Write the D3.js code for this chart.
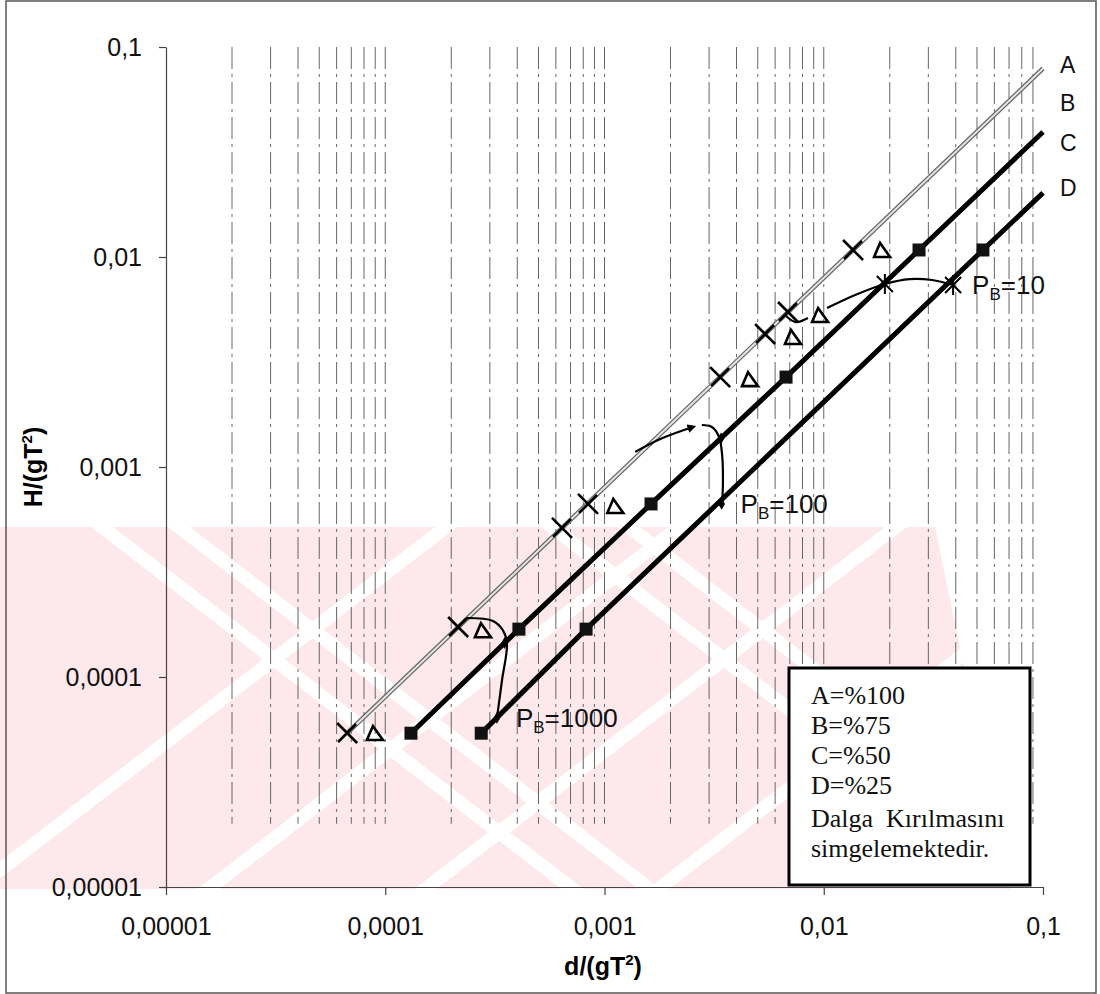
<!DOCTYPE html>
<html>
<head>
<meta charset="utf-8">
<script src="https://cdn.jsdelivr.net/npm/d3@7"></script>
<style>
  body { margin: 0; background: #fff; }
  svg { display: block; }
</style>
</head>
<body>
<div id="content"></div>
<script>
// tick values and labels (Turkish decimal comma)
const xTicks = [1e-5, 1e-4, 1e-3, 1e-2, 1e-1];
const xTickLabels = ["0,00001", "0,0001", "0,001", "0,01", "0,1"];
const yTicks = [1e-5, 1e-4, 1e-3, 1e-2, 1e-1];
const yTickLabels = ["0,00001", "0,0001", "0,001", "0,01", "0,1"];

// [d/(gT^2), H/(gT^2)]
const lineA = [[6.7e-5, 5.4e-5], [0.1, 0.079]];
const lineC = [[1.31e-4, 5.4e-5], [4.07e-4, 1.69e-4], [1.63e-3, 6.67e-4], [6.73e-3, 2.68e-3], [0.0272, 0.0108], [0.1, 0.0394]];
const lineD = [[2.74e-4, 5.4e-5], [8.24e-4, 1.69e-4], [0.0532, 0.0108], [0.1, 0.0202]];
const squaresC = [[1.31e-4, 5.4e-5], [4.07e-4, 1.69e-4], [1.63e-3, 6.67e-4], [6.73e-3, 2.68e-3], [0.0272, 0.0108]];
const squaresD = [[2.74e-4, 5.4e-5], [8.24e-4, 1.69e-4], [0.0532, 0.0108]];

// wave breaking marks
const breakA = [[6.7e-5, 5.41e-5], [2.15e-4, 1.73e-4], [6.40e-4, 5.13e-4], [8.41e-4, 6.67e-4], [3.37e-3, 2.68e-3], [5.40e-3, 4.30e-3], [6.87e-3, 5.47e-3], [0.0136, 0.0108]];
const triangles = [[8.97e-5, 5.41e-5], [2.79e-4, 1.67e-4], [1.12e-3, 6.52e-4], [4.61e-3, 2.62e-3], [7.24e-3, 4.16e-3], [9.62e-3, 5.29e-3], [0.01845, 0.0108]];
const breakCD = [[3.5e-4, 1.45e-4], [3.23e-4, 6.38e-5], [3.4e-3, 1.37e-3], [3.42e-3, 6.67e-4]];
const asterisks = [[0.019, 7.44e-3], [0.0389, 7.36e-3]];

// P_B curves
const pb1000 = [[2.36e-4, 1.91e-4], [3.10e-4, 1.85e-4], [3.44e-4, 1.67e-4], [3.59e-4, 1.45e-4], [3.41e-4, 9.68e-5], [3.27e-4, 6.97e-5], [3.23e-4, 6.38e-5]];
const pb100a = [[1.38e-3, 1.18e-3], [1.83e-3, 1.37e-3], [2.53e-3, 1.55e-3]];
const pb100b = [[2.78e-3, 1.585e-3], [3.09e-3, 1.55e-3], [3.33e-3, 1.39e-3], [3.44e-3, 1.14e-3], [3.47e-3, 8.67e-4], [3.44e-3, 6.67e-4]];
const pb10a = [[6.73e-3, 5.24e-3], [7.46e-3, 4.90e-3], [8.47e-3, 5.12e-3]];
const pb10b = [[1.035e-2, 5.71e-3], [1.39e-2, 6.59e-3], [1.90e-2, 7.44e-3], [2.47e-2, 7.85e-3], [3.12e-2, 7.77e-3], [3.89e-2, 7.36e-3]];
const pbLabels = ["1000", "100", "10"];
const pbAnchors = [[3.23e-4, 6.38e-5], [3.42e-3, 6.67e-4], [0.0389, 7.36e-3]];

const lineNames = ["A", "B", "C", "D"];
const legendLines = ["A=%100", "B=%75", "C=%50", "D=%25", "Dalga  Kırılmasını", "simgelemektedir."];

const width = 1100, height = 994;

const svg = d3.select("#content")
    .append("svg")
    .attr("width", width)
    .attr("height", height);

const x = d3.scaleLog().domain([1e-5, 0.1]).range([166, 1043]);
const y = d3.scaleLog().domain([1e-5, 0.1]).range([887, 47]);

// watermark in the background (scan artefact): pink area with white diagonal cuts
const wmTop = 527, wmBottom = 889, wmSlope = 1.3;
const wm = svg.append("g");
wm.append("polygon")
    .attr("points", "0," + wmTop + " 935," + wmTop + " 1010," + wmBottom + " 0," + wmBottom)
    .attr("fill", "#fde8ec");
function band(x0, dir, w) {
    const h = wmBottom - wmTop;
    const x1 = x0 + dir * wmSlope * h;
    return [[x0, wmTop], [x0 + w, wmTop], [x1 + w, wmBottom], [x1, wmBottom]]
        .map(p => p.join(",")).join(" ");
}
[[91, 1], [168, 1], [541, 1], [618, 1], [435, -1], [668, -1], [885, -1], [1118, -1]].forEach(b => {
    wm.append("polygon")
        .attr("points", band(b[0], b[1], 22))
        .attr("fill", "#fff");
});

// outer frame
svg.append("rect")
    .attr("x", 6).attr("y", 1)
    .attr("width", 1090).attr("height", 992)
    .attr("fill", "none")
    .attr("stroke", "#555")
    .attr("stroke-width", 1.5);

// vertical grid lines at every log step
const gridVals = [];
for (let e = -5; e <= -2; e++) {
    for (let k = 1; k <= 9; k++) {
        if (e === -5 && k === 1) continue;
        gridVals.push(k * Math.pow(10, e));
    }
}
svg.append("g")
    .selectAll("line")
    .data(gridVals)
    .enter()
    .append("line")
    .attr("x1", d => x(d))
    .attr("x2", d => x(d))
    .attr("y1", y(0.1))
    .attr("y2", y(2e-5))
    .attr("stroke", "#666")
    .attr("stroke-width", 1)
    .attr("stroke-dasharray", "22,5,3,5");

// axes
const xAxis = d3.axisBottom(x)
    .tickValues(xTicks)
    .tickFormat((d, i) => xTickLabels[i])
    .tickSize(8)
    .tickSizeOuter(0)
    .tickPadding(22);
const yAxis = d3.axisLeft(y)
    .tickValues(yTicks)
    .tickFormat((d, i) => yTickLabels[i])
    .tickSize(7)
    .tickSizeOuter(0)
    .tickPadding(17);

const gx = svg.append("g")
    .attr("transform", "translate(0," + y(1e-5) + ")")
    .call(xAxis);
const gy = svg.append("g")
    .attr("transform", "translate(" + x(1e-5) + ",0)")
    .call(yAxis);
[gx, gy].forEach(g => {
    g.selectAll("path, line").attr("stroke", "#444").attr("stroke-width", 1.2);
    g.selectAll("text")
        .attr("font-family", "Liberation Sans, Arial, sans-serif")
        .attr("font-size", 25)
        .attr("fill", "#111");
});

// axis titles
const xTitle = svg.append("text")
    .attr("x", 603)
    .attr("y", 975)
    .attr("text-anchor", "middle")
    .attr("font-family", "Liberation Sans, Arial, sans-serif")
    .attr("font-weight", "bold")
    .attr("font-size", 25)
    .text("d/(gT");
xTitle.append("tspan").attr("dy", -10).attr("font-size", 15).text("2");
xTitle.append("tspan").attr("dy", 10).text(")");

const yTitle = svg.append("text")
    .attr("transform", "translate(42,467) rotate(-90)")
    .attr("text-anchor", "middle")
    .attr("font-family", "Liberation Sans, Arial, sans-serif")
    .attr("font-weight", "bold")
    .attr("font-size", 25)
    .text("H/(gT");
yTitle.append("tspan").attr("dy", -10).attr("font-size", 15).text("2");
yTitle.append("tspan").attr("dy", 10).text(")");

const line = d3.line().x(d => x(d[0])).y(d => y(d[1]));
const curve = d3.line().x(d => x(d[0])).y(d => y(d[1])).curve(d3.curveCatmullRom);

// line A: grey hollow-looking line
svg.append("path").datum(lineA)
    .attr("d", line)
    .attr("fill", "none")
    .attr("stroke", "#666")
    .attr("stroke-width", 4.5);
svg.append("path").datum(lineA)
    .attr("d", line)
    .attr("fill", "none")
    .attr("stroke", "#e4e4e4")
    .attr("stroke-width", 2);

// lines C and D
[lineC, lineD].forEach(l => {
    svg.append("path").datum(l)
        .attr("d", line)
        .attr("fill", "none")
        .attr("stroke", "#000")
        .attr("stroke-width", 5)
        .attr("stroke-linejoin", "round");
});

// P_B curves
svg.append("defs").append("marker")
    .attr("id", "arrow")
    .attr("viewBox", "0 0 10 10")
    .attr("refX", 6).attr("refY", 5)
    .attr("markerWidth", 4).attr("markerHeight", 4)
    .attr("orient", "auto")
    .append("path")
    .attr("d", "M0,0 L10,5 L0,10 z")
    .attr("fill", "#000");

[pb1000, pb100a, pb100b, pb10a, pb10b].forEach((c, i) => {
    svg.append("path").datum(c)
        .attr("d", curve)
        .attr("fill", "none")
        .attr("stroke", "#000")
        .attr("stroke-width", 2.2)
        .attr("marker-end", i === 1 ? "url(#arrow)" : null);
});

// squares
svg.append("g")
    .selectAll("rect")
    .data(squaresC.concat(squaresD))
    .enter()
    .append("rect")
    .attr("x", d => x(d[0]) - 6.5)
    .attr("y", d => y(d[1]) - 6.5)
    .attr("width", 13)
    .attr("height", 13)
    .attr("fill", "#111");

// X marks on line A
svg.append("g")
    .selectAll("path")
    .data(breakA)
    .enter()
    .append("path")
    .attr("transform", d => "translate(" + x(d[0]) + "," + y(d[1]) + ")")
    .attr("d", "M-10,-10 L10,10 M-9,9 L9,-9")
    .attr("stroke", "#000")
    .attr("stroke-width", 2.6)
    .attr("fill", "none");

// triangles
svg.append("g")
    .selectAll("path")
    .data(triangles)
    .enter()
    .append("path")
    .attr("transform", d => "translate(" + x(d[0]) + "," + y(d[1]) + ")")
    .attr("d", "M-2,-7 L8,7 L-8,7 Z")
    .attr("stroke", "#000")
    .attr("stroke-width", 2.6)
    .attr("fill", "none");

// small breaking marks on C and D
svg.append("g")
    .selectAll("path")
    .data(breakCD)
    .enter()
    .append("path")
    .attr("transform", d => "translate(" + x(d[0]) + "," + y(d[1]) + ")")
    .attr("d", d3.symbol(d3.symbolDiamond, 40))
    .attr("fill", "#000");

// asterisks
svg.append("g")
    .selectAll("path")
    .data(asterisks)
    .enter()
    .append("path")
    .attr("transform", d => "translate(" + x(d[0]) + "," + y(d[1]) + ")")
    .attr("d", "M-8,-8 L8,8 M-8,8 L8,-8 M0,-10 L0,10")
    .attr("stroke", "#000")
    .attr("stroke-width", 2)
    .attr("fill", "none");

// P_B labels
pbAnchors.forEach((a, i) => {
    const t = svg.append("text")
        .attr("x", x(a[0]) + 19)
        .attr("y", y(a[1]) + 9)
        .attr("font-family", "Liberation Sans, Arial, sans-serif")
        .attr("font-size", 26)
        .attr("fill", "#111")
        .text("P");
    t.append("tspan").attr("dy", 6).attr("font-size", 17).text("B");
    t.append("tspan").attr("dy", -6).text("=" + pbLabels[i]);
});

// line names on the right
const nameY = [65, 103, 143, 188];
lineNames.forEach((n, i) => {
    svg.append("text")
        .attr("x", 1060)
        .attr("y", nameY[i] + 8)
        .attr("font-family", "Liberation Sans, Arial, sans-serif")
        .attr("font-size", 23)
        .attr("fill", "#111")
        .text(n);
});

// legend box
svg.append("rect")
    .attr("x", 789).attr("y", 668)
    .attr("width", 241).attr("height", 217)
    .attr("fill", "#fff")
    .attr("stroke", "#000")
    .attr("stroke-width", 3);
const legY = [704, 734, 764, 794, 827, 857];
legendLines.forEach((t, i) => {
    svg.append("text")
        .attr("x", 811)
        .attr("y", legY[i])
        .attr("font-family", "Liberation Serif, Times New Roman, serif")
        .attr("font-size", 26)
        .attr("fill", "#111")
        .style("white-space", "pre")
        .text(t);
});
</script>
</body>
</html>
